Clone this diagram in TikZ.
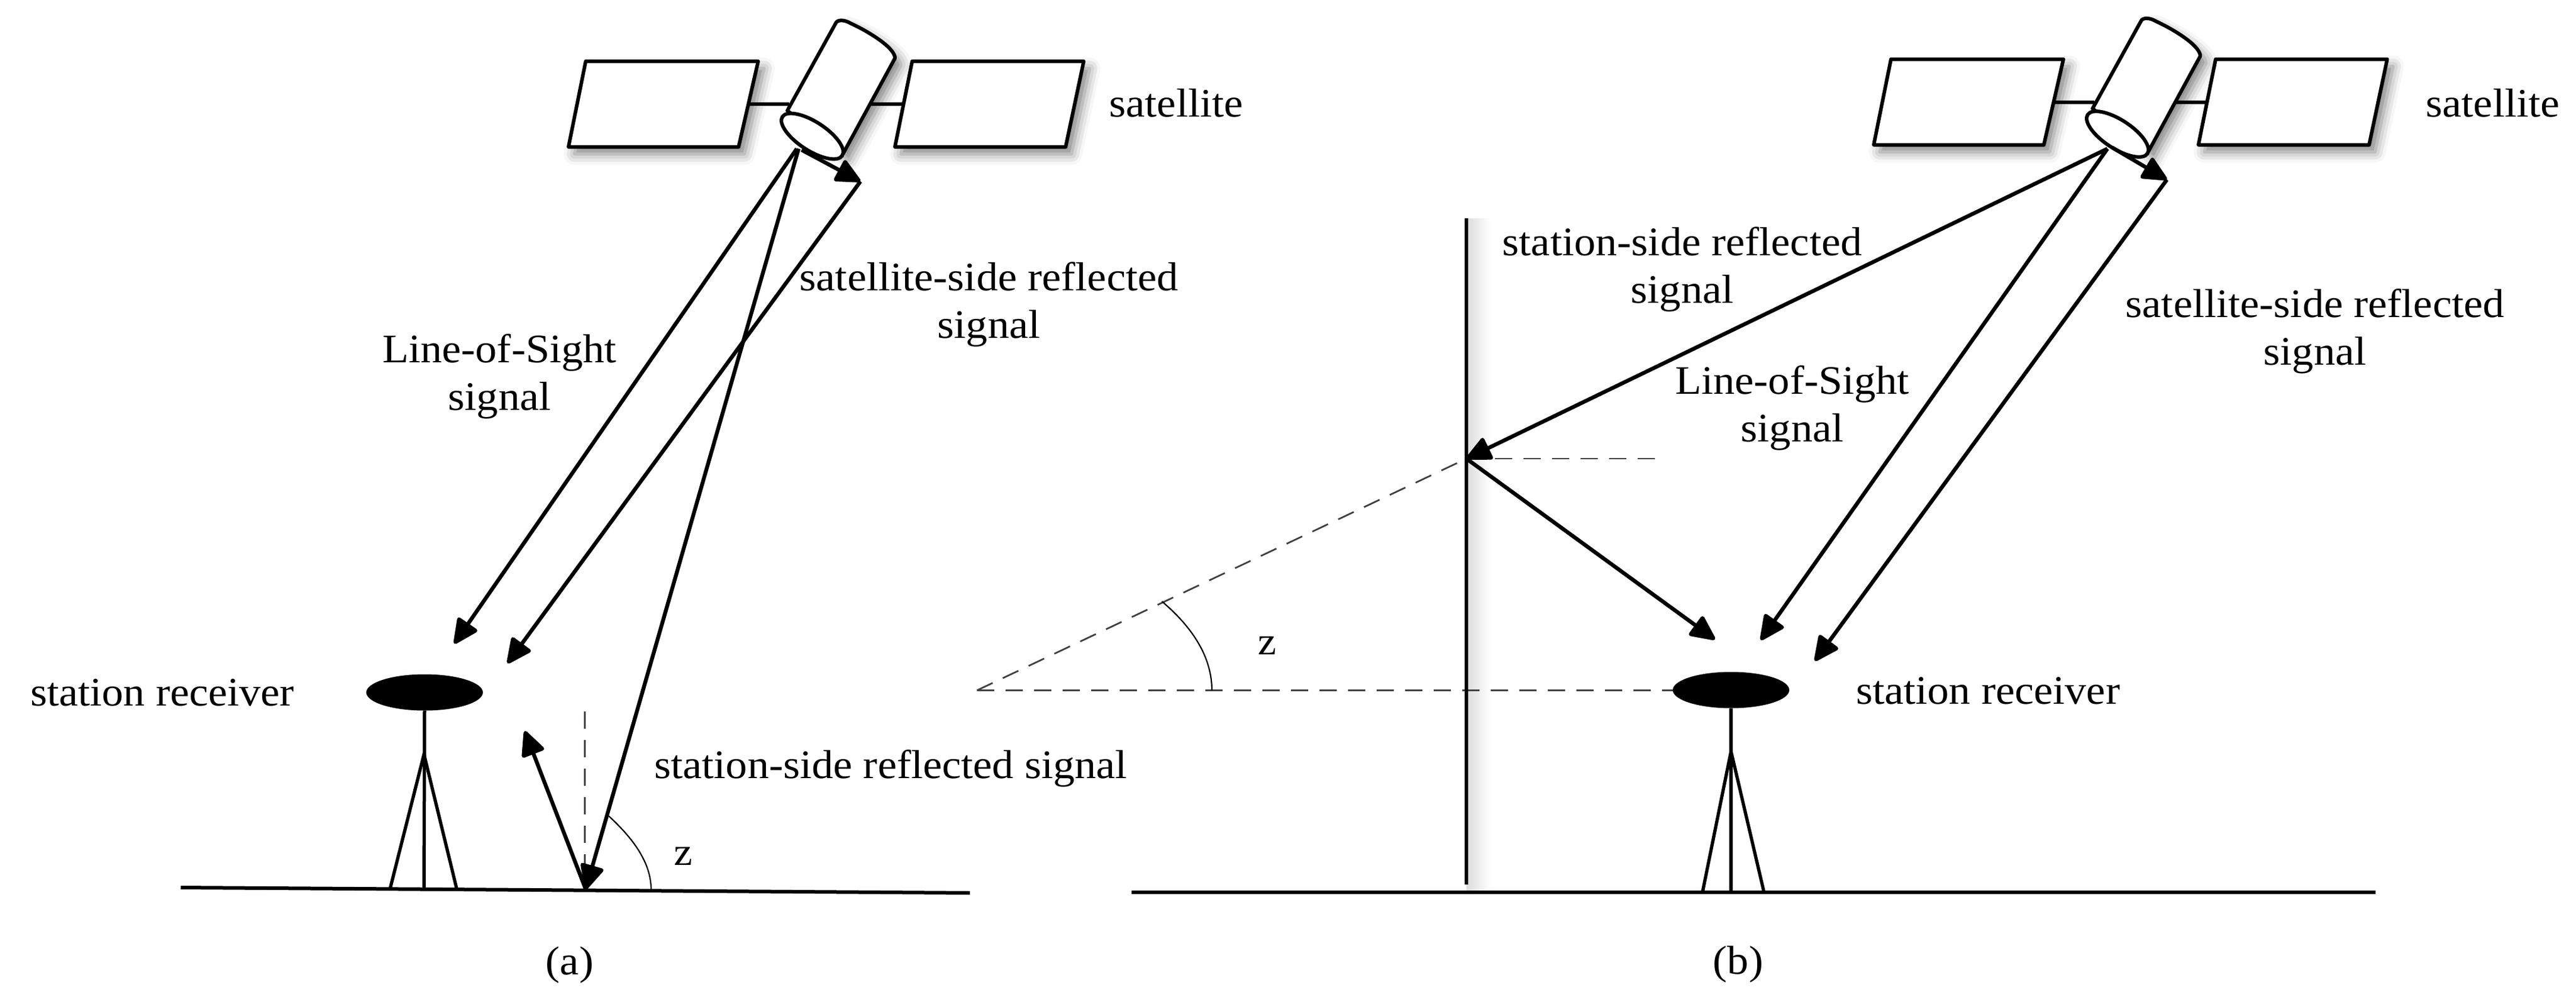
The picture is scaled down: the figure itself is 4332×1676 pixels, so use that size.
\documentclass[tikz,border=0pt]{standalone}
\usepackage{fontspec}
\setmainfont[FakeStretch=1.064]{Liberation Serif}
\usetikzlibrary{arrows.meta,shadows.blur,shapes.geometric}
\tikzset{
  x=1pt,y=-1pt,
  lbl/.style={inner sep=0pt,align=center,text=black,font=\fontsize{68}{80}\selectfont},
  smalllbl/.style={lbl,font=\fontsize{66}{70}\selectfont},
  sig/.style={line width=6.5pt,draw=black,-{Triangle[length=46pt,width=42pt,fill=black,round]}},
  plainline/.style={line width=6pt,draw=black},
  legline/.style={line width=5.5pt,draw=black},
  satshape/.style={line width=6pt,draw=black,fill=white,line join=round,
    blur shadow={shadow xshift=10pt,shadow yshift=-12pt,shadow blur radius=18pt,shadow opacity=50}},
  strut/.style={line width=6pt,draw=black},
  dashline/.style={line width=2.8pt,draw=black!75,dash pattern=on 29pt off 19pt},
  anglearc/.style={line width=2.2pt,draw=black},
  dish/.style={ellipse,fill=black,draw=none,minimum width=196pt,minimum height=61pt,inner sep=0pt},
}
\newcommand{\satdraw}[1]{%
  \draw[strut] (1258,175) -- (1327,175) (1464,175) -- (1522,175);
  \path[satshape] (985,103) -- (1275,103) -- (1242,247) -- (956,247) -- cycle;
  \path[satshape,xshift=#1] (1534,103) -- (1822.5,103) -- (1792,247) -- (1505,247) -- cycle;
  \path[satshape] (1406,38) .. controls (1409,33) and (1420,33) .. (1430,39)
     .. controls (1465,55) and (1506,82) .. (1505,98) -- (1418,258) -- (1324,186) -- cycle;
  \draw[line width=6pt,fill=white,shift={(1366,229)},rotate=-33] (0,0) ellipse [x radius=60pt,y radius=24pt];
}
\begin{document}
\begin{tikzpicture}
\useasboundingbox (0,0) rectangle (4332,1676);
% ---------- panel (a)
\satdraw{0pt}
\node[dish] (aDish) at (714,1164) {};
\coordinate (aLos) at (1340,250);
\coordinate (aLosT) at (764,1082);
\coordinate (aSmall) at (1348,252);
\coordinate (aRefl) at (1447,305);
\coordinate (aReflT) at (853.5,1115);
\coordinate (aDown) at (1343,250);
\coordinate (aGnd) at (985,1495);
\coordinate (aUp) at (882.5,1229);
\coordinate (aDash) at (983.5,1196);
\coordinate (aDashB) at (983.5,1495);
\coordinate (aGL) at (304,1492);
\coordinate (aGR) at (1631,1501);
\coordinate (aPb) at (713,1494);
\coordinate (aApex) at (713,1268);
\coordinate (aF1) at (656,1494);
\coordinate (aF2) at (768,1494);
\coordinate (aA1) at (1024,1372);
\coordinate (aA2) at (1095,1496);
\draw[plainline] (aGL) -- (aGR);
\draw[legline] (aDish.south) -- (aPb);
\draw[legline] (aF1) -- (aApex) -- (aF2);
\draw[dashline] (aDash) -- (aDashB);
\draw[anglearc] (aA1) .. controls (1065,1410) and (1095,1450) .. (aA2);
\draw[sig] (aLos) -- (aLosT);
\draw[sig] (aSmall) -- (aRefl);
\draw[sig] (aRefl) -- (aReflT);
\draw[sig] (aDown) -- (aGnd);
\draw[sig] (aGnd) -- (aUp);
\node[lbl] (aSat) at (1978,173) {satellite};
\node[lbl] (aSatRef) at (1663,512) {satellite-side reflected\\signal};
\node[lbl] (aLosL) at (840,633) {Line-of-Sight\\signal};
\node[lbl] (aRec) at (273,1164) {station receiver};
\node[lbl] (aStaRef) at (1498,1292) {station-side reflected signal};
\node[smalllbl] (aZ) at (1149,1439) {z};
\node[lbl] (aCap) at (958,1622) {(a)};
% ---------- panel (b)
\begin{scope}[shift={(2195,-3.5)}]
\satdraw{-3pt}
\end{scope}
\fill[left color=black!14,right color=white,draw=none] (2466,367) rectangle (2506,1498);
\node[dish] (bDish) at (2911,1160) {};
\coordinate (bOrig) at (1643,1160.5);
\coordinate (bWall) at (2466,771);
\coordinate (bDashR) at (2786,771);
\coordinate (bDishL) at (2813,1160.5);
\coordinate (bWallT) at (2466,367);
\coordinate (bWallB) at (2466,1487);
\coordinate (bGL) at (1903,1500);
\coordinate (bGR) at (3995,1500);
\coordinate (bPb) at (2911,1500);
\coordinate (bApex) at (2911,1263);
\coordinate (bF1) at (2863,1500);
\coordinate (bF2) at (2966.5,1500);
\coordinate (bA1) at (1954,1011);
\coordinate (bA2) at (2038,1160.5);
\coordinate (bSat) at (3544,250);
\coordinate (bSmall) at (3552,248);
\coordinate (bRefl) at (3644,302);
\coordinate (bReflT) at (3052,1111);
\coordinate (bLosT) at (2961,1076);
\coordinate (bWallOut) at (2884,1075);
\draw[plainline] (bGL) -- (bGR);
\draw[dashline] (bOrig) -- (bWall);
\draw[dashline] (bOrig) -- (bDishL);
\draw[dashline] (bWall) -- (bDashR);
\draw[anglearc] (bA1) .. controls (2000,1050) and (2038,1100) .. (bA2);
\draw[plainline] (bWallT) -- (bWallB);
\draw[legline] (bDish.south) -- (bPb);
\draw[legline] (bF1) -- (bApex) -- (bF2);
\draw[sig] (bSat) -- (bWall);
\draw[sig] (bWall) -- (bWallOut);
\draw[sig] (bSat) -- (bLosT);
\draw[sig] (bSmall) -- (bRefl);
\draw[sig] (bRefl) -- (bReflT);
\node[lbl] (bSatL) at (4192,173) {satellite};
\node[lbl] (bStaRef) at (2829,453) {station-side reflected\\signal};
\node[lbl] (bLosL) at (3014,686) {Line-of-Sight\\signal};
\node[lbl] (bSatRef) at (3893,557) {satellite-side reflected\\signal};
\node[lbl] (bRec) at (3343,1161) {station receiver};
\node[smalllbl] (bZ) at (2131,1085) {z};
\node[lbl] (bCap) at (2923,1621) {(b)};
\end{tikzpicture}
\end{document}
